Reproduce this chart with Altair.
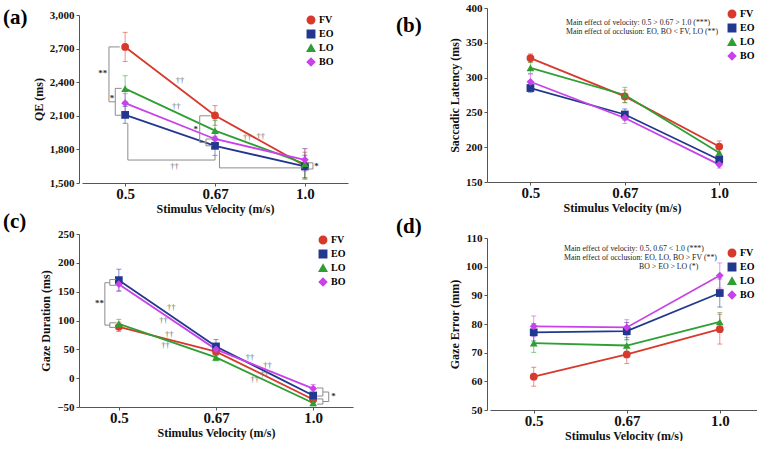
import altair as alt
import pandas as pd

GROUPS = ["FV", "EO", "LO", "BO"]
COLORS = ["#d7392c", "#22388f", "#2f9e33", "#c842ea"]
SHAPES = ["circle", "square", "triangle-up", "diamond"]
VEL_POS = [0, 1, 2]
VEL_LABELS = ["0.5", "0.67", "1.0"]
X_TITLE = "Stimulus Velocity (m/s)"
SERIF = "Liberation Serif"

# (a) QE (ms)
QE_MEAN = {"FV": [2715, 2103, 1655], "EO": [2108, 1832, 1648],
           "LO": [2343, 1968, 1672], "BO": [2213, 1893, 1707]}
QE_ERR = {"FV": [130, 88, 120], "EO": [75, 85, 100],
          "LO": [115, 90, 135], "BO": [85, 70, 100]}
# (b) Saccadic latency (ms)
SL_MEAN = {"FV": [328, 273, 201], "EO": [285, 247, 182],
           "LO": [314, 275, 192], "BO": [294, 242, 175]}
SL_ERR = {"FV": [6, 9, 8], "EO": [6, 8, 5], "LO": [8, 11, 5], "BO": [11, 8, 5]}
# (c) Gaze duration (ms)
GD_MEAN = {"FV": [89, 46, -37], "EO": [170, 55, -30],
           "LO": [94, 36, -43], "BO": [163, 50, -18]}
GD_ERR = {"FV": [8, 6, 5], "EO": [19, 12, 5], "LO": [8, 6, 5], "BO": [12, 8, 7]}
# (d) Gaze error (mm)
GE_MEAN = {"FV": [61.6, 69.4, 78.2], "EO": [77.1, 77.5, 90.8],
           "LO": [73.3, 72.5, 80.7], "BO": [79.2, 78.8, 96.9]}
GE_ERR = {"FV": [3.3, 3.2, 5.2], "EO": [3.0, 3.0, 4.9],
          "LO": [3.2, 2.8, 3.3], "BO": [3.6, 2.7, 4.4]}

# significance brackets (x, y, x2, y2 in data units)
A_BRACKETS = [
    (-0.18, 2715, -0.06, 2715), (-0.18, 2715, -0.18, 2225), (-0.18, 2225, -0.11, 2225),
    (-0.11, 2345, -0.04, 2345), (-0.11, 2345, -0.11, 2105), (-0.11, 2105, -0.04, 2105),
    (0.03, 2030, 0.03, 1705), (0.03, 1705, 1.0, 1705), (1.0, 1705, 1.0, 1745),
    (1.05, 1790, 1.05, 1635), (1.05, 1635, 1.98, 1635),
    (0.83, 2100, 0.95, 2100), (0.83, 2100, 0.83, 1862), (0.83, 1862, 0.9, 1862),
    (0.9, 1893, 0.97, 1893), (0.9, 1893, 0.9, 1832), (0.9, 1832, 0.97, 1832),
    (2.03, 1680, 2.09, 1680), (2.09, 1680, 2.09, 1625), (2.03, 1625, 2.09, 1625),
]
A_STARS = [(-0.25, 2480, "**"), (-0.145, 2260, "*"), (0.785, 1982, "*"), (2.13, 1652, "*")]
A_DAGGERS = [(0.61, 2420), (0.57, 2187), (1.36, 1911), (1.51, 1920), (0.55, 1652)]

C_BRACKETS = [
    (-0.144, 165.5, -0.093, 165.5), (-0.144, 165.5, -0.144, 92), (-0.144, 92, -0.093, 92),
    (-0.093, 171, -0.03, 171), (-0.093, 171, -0.093, 161), (-0.093, 161, -0.03, 161),
    (-0.093, 96, -0.03, 96), (-0.093, 96, -0.093, 88), (-0.093, 88, -0.03, 88),
    (2.04, -17, 2.10, -17), (2.10, -17, 2.10, -31), (2.04, -31, 2.10, -31),
    (2.04, -36, 2.10, -36), (2.10, -36, 2.10, -45), (2.04, -45, 2.10, -45),
    (2.10, -24, 2.16, -24), (2.16, -24, 2.16, -40.5), (2.10, -40.5, 2.16, -40.5),
]
C_STARS = [(-0.2, 130, "**"), (2.21, -31, "*")]
C_DAGGERS = [(0.54, 124), (0.46, 101), (0.52, 76), (0.48, 57),
             (1.35, 36), (1.53, 23), (1.40, -1), (1.5, 8)]

B_NOTES = ["Main effect of velocity: 0.5 > 0.67 > 1.0 (***)",
           "Main effect of occlusion: EO, BO < FV, LO (**)"]
D_NOTES = ["Main effect of velocity: 0.5, 0.67 < 1.0 (***)",
           "Main effect of occlusion: EO, LO, BO > FV (**)",
           "BO > EO > LO (*)"]

label_expr = "[" + ",".join(f"'{l}'" for l in VEL_LABELS) + "][datum.value]"


def panel(means, errs, ydom, yticks, yfmt, ytitle, xdom, w, h, xrange, yrange, legxy,
          plabel, plabelxy, brackets=(), stars=(), daggers=(), notes=(), notes_xy=()):
    rows = []
    for g in GROUPS:
        for i, p in enumerate(VEL_POS):
            m, e = means[g][i], errs[g][i]
            rows.append(dict(group=g, xi=p, mean=m, lo=m - e, hi=m + e))
    df = pd.DataFrame(rows)
    caps = pd.concat([df.assign(cap=df["lo"]), df.assign(cap=df["hi"])])

    xs = alt.Scale(domain=xdom, range=xrange, nice=False, zero=False)
    ys = alt.Scale(domain=ydom, range=yrange, nice=False, zero=False)
    xaxis = alt.Axis(values=VEL_POS, labelExpr=label_expr, labelFontSize=15,
                     title=X_TITLE, titleFontSize=12, tickSize=3, labelPadding=0,
                     titlePadding=2, grid=False)
    yaxis = alt.Axis(values=yticks, format=yfmt, labelFontSize=11, title=ytitle,
                     titleFontSize=12, tickSize=3, labelPadding=2, titlePadding=4,
                     grid=False)
    leg = alt.Legend(title=None, orient="none", legendX=legxy[0], legendY=legxy[1],
                     labelFont=SERIF, labelFontWeight="bold", labelFontSize=10,
                     symbolSize=55, symbolOpacity=1, rowPadding=0, labelOffset=3, padding=0)
    col = alt.Color("group:N", scale=alt.Scale(domain=GROUPS, range=COLORS), legend=leg)
    shp = alt.Shape("group:N", scale=alt.Scale(domain=GROUPS, range=SHAPES), legend=leg)
    X = lambda f: alt.X(f, scale=xs, axis=xaxis)
    Y = lambda f: alt.Y(f, scale=ys, axis=yaxis)

    base = alt.Chart(df)
    layers = [
        base.mark_rule(strokeWidth=1, opacity=0.55).encode(x=X("xi:Q"), y=Y("lo:Q"), y2="hi:Q", color=col),
        alt.Chart(caps).mark_tick(orient="horizontal", size=5, thickness=1, opacity=0.55)
        .encode(x=X("xi:Q"), y=Y("cap:Q"), color=col),
        base.mark_line(strokeWidth=1.8).encode(x=X("xi:Q"), y=Y("mean:Q"), color=col, order="xi:Q"),
        base.mark_point(filled=True, size=60, opacity=1).encode(x=X("xi:Q"), y=Y("mean:Q"), color=col, shape=shp),
    ]
    if brackets:
        bdf = pd.DataFrame(list(brackets), columns=["bx", "by", "bx2", "by2"])
        layers.append(alt.Chart(bdf).mark_rule(color="#8c8c8c", strokeWidth=1)
                      .encode(x=X("bx:Q"), x2="bx2:Q", y=Y("by:Q"), y2="by2:Q"))
    if stars:
        sdf = pd.DataFrame(list(stars), columns=["sx", "sy", "st"])
        layers.append(alt.Chart(sdf).mark_text(font=SERIF, fontSize=9, fontWeight="bold", color="#333")
                      .encode(x=X("sx:Q"), y=Y("sy:Q"), text="st:N"))
    if daggers:
        ddf = pd.DataFrame(list(daggers), columns=["gx", "gy"]).assign(gt="††")
        layers.append(alt.Chart(ddf).mark_text(font=SERIF, fontSize=8.5, color="#6e6e6e")
                      .encode(x=X("gx:Q"), y=Y("gy:Q"), text="gt:N"))
    for t, (nx, ny) in zip(notes, notes_xy):
        layers.append(alt.Chart(pd.DataFrame({"t": [t]})).mark_text(
            font=SERIF, fontSize=7.8, align="left", baseline="middle", color="#222")
            .encode(text="t:N", x=alt.value(nx), y=alt.value(ny)))
    layers.append(alt.Chart(pd.DataFrame({"t": [plabel]})).mark_text(
        font=SERIF, fontSize=21, fontWeight="bold", align="left", baseline="middle", color="#000")
        .encode(text="t:N", x=alt.value(plabelxy[0]), y=alt.value(plabelxy[1])))
    return alt.layer(*layers).properties(width=w, height=h)


pa = panel(QE_MEAN, QE_ERR, [1500, 3000], [1500, 1800, 2100, 2400, 2700, 3000], ",d",
           "QE (ms)", [-0.48, 2.48], 274, 175, [3, 269], [175, 7], (227, 7), "(a)", (-76, 9.5),
           A_BRACKETS, A_STARS, A_DAGGERS)
pb = panel(SL_MEAN, SL_ERR, [150, 400], [150, 200, 250, 300, 350, 400], "d",
           "Saccadic Latency (ms)", [-0.46, 2.40], 270, 174, [0, 270], [174, 0], (240, 1),
           "(b)", (-91, 18), notes=B_NOTES, notes_xy=[(79, 15), (79, 24)])
pc = panel(GD_MEAN, GD_ERR, [-50, 250], [-50, 0, 50, 100, 150, 200, 250], "d",
           "Gaze Duration (ms)", [-0.41, 2.41], 274, 173, [0, 274], [173, 0], (239, 1),
           "(c)", (-76, -12), C_BRACKETS, C_STARS, C_DAGGERS)
pd_ = panel(GE_MEAN, GE_ERR, [50, 110], [50, 60, 70, 80, 90, 100, 110], "d",
            "Gaze Error (mm)", [-0.47, 2.40], 270, 176, [3, 270], [176, 4], (240, 14),
            "(d)", (-91, -7), notes=D_NOTES, notes_xy=[(77, 15), (77, 24), (152, 33)])

chart = alt.concat(pa, pb, pc, pd_, columns=2, spacing={"row": 51, "column": 134},
                   bounds="flush").resolve_scale(
    color="independent", shape="independent", x="independent", y="independent"
).resolve_legend(color="independent", shape="independent").properties(
    padding={"left": 3, "top": 2, "right": 0, "bottom": 0}
).configure_view(stroke=None).configure_axis(
    labelFont=SERIF, titleFont=SERIF, labelFontWeight="bold", titleFontWeight="bold",
    labelColor="#111", titleColor="#111", domainColor="#555", tickColor="#555"
)

chart.save("out.html", embed_options={"renderer": "svg", "actions": False})
